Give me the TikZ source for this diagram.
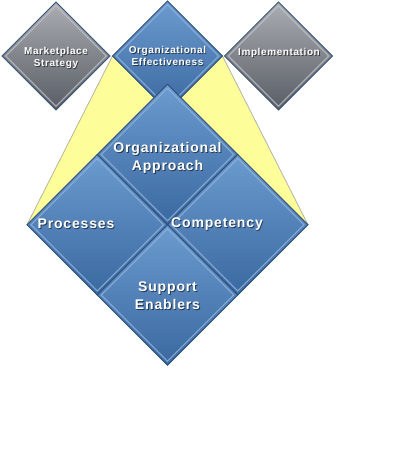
\documentclass[tikz,border=0pt]{standalone}
\usepackage{fontspec}
\setmainfont{Liberation Sans}
\newfontfamily\labfont{Liberation Sans}[LetterSpace=6]
\usetikzlibrary{shapes.geometric}
\pgfdeclarelayer{background}
\pgfsetlayers{background,main}
\definecolor{bluetop}{HTML}{6C9BCF}
\definecolor{bluebot}{HTML}{3A68A0}
\definecolor{bluedark}{HTML}{2C4E78}
\definecolor{bluebevel}{HTML}{8DB1DA}
\definecolor{graytop}{HTML}{AAADB2}
\definecolor{graybot}{HTML}{585C64}
\definecolor{graybevel}{HTML}{C4C7CB}
\definecolor{graydark}{HTML}{3A5578}
\definecolor{yel}{HTML}{FDFD9A}
\definecolor{yeledge}{HTML}{B5B5A8}
\tikzset{
  bluedia/.style={shape=diamond, inner sep=0pt, outer sep=0pt, minimum size=#1,
    draw=bluedark, line width=0.9pt, top color=bluetop, bottom color=bluebot},
  graydia/.style={shape=diamond, inner sep=0pt, outer sep=0pt, minimum size=#1,
    draw=graydark, line width=0.9pt, top color=graytop, bottom color=graybot},
  bluebev/.style={shape=diamond, inner sep=0pt, minimum size=#1,
    draw=bluebevel, line width=1.2pt, draw opacity=0.8},
  graybev/.style={shape=diamond, inner sep=0pt, minimum size=#1,
    draw=graybevel, line width=1.2pt, draw opacity=0.7},
  smalltxt/.style={align=center, font=\labfont\bfseries\fontsize{10}{12.6}\selectfont, inner sep=0pt},
  bigtxt/.style={align=center, font=\labfont\bfseries\fontsize{14}{18}\selectfont, inner sep=0pt},
  wtxt/.style={text=white},
  shtxt/.style={text=black, text opacity=0.55},
}
\newcommand{\shlabel}[4]{%
  \node[#3, shtxt] (#1s) at ([shift={(0.9pt,-0.9pt)}]#2) {#4};
  \node[#3, wtxt] (#1) at (#2) {#4};}
\begin{document}
\begin{tikzpicture}[x=1pt, y=-1pt]
\useasboundingbox (0,0) rectangle (410,450);
% top row
\node[graydia=108pt] (ms) at (56,56) {};
\node[graybev=101pt] (msb) at (ms) {};
\node[graydia=108pt] (im) at (278.5,56) {};
\node[graybev=101pt] (imb) at (im) {};
\node[bluedia=110pt] (oe) at (167.5,56) {};
\node[bluebev=103pt] (oeb) at (oe) {};
% big diamond parts
\node[bluedia=140.5pt] (oa) at (167.5,154.5) {};
\node[bluebev=133pt] (oab) at (oa) {};
\node[bluedia=140.5pt] (pr) at (97.25,224.75) {};
\node[bluebev=133pt] (prb) at (pr) {};
\node[bluedia=140.5pt] (co) at (237.75,224.75) {};
\node[bluebev=133pt] (cob) at (co) {};
\node[bluedia=140.5pt] (se) at (167.5,295) {};
\node[bluebev=133pt] (seb) at (se) {};
% yellow funnel
\begin{pgfonlayer}{background}
\fill[white] (0,0) rectangle (410,450);
\fill[yel] (oe.west) -- (oe.east) -- (co.east) -- (pr.west) -- cycle;
\draw[yeledge, line width=0.8pt] (oe.west) -- (pr.west);
\draw[yeledge, line width=0.8pt] (oe.east) -- (co.east);
\end{pgfonlayer}
% labels
\shlabel{mst}{56,58}{smalltxt}{Marketplace\\Strategy}
\shlabel{oet}{167.5,56}{smalltxt}{Organizational\\Effectiveness}
\shlabel{imt}{279,53}{smalltxt}{Implementation}
\shlabel{oat}{167.5,158}{bigtxt}{Organizational\\Approach}
\shlabel{prt}{76,224}{bigtxt}{Processes}
\shlabel{cot}{217,224}{bigtxt}{Competency}
\shlabel{set}{167.5,296}{bigtxt}{Support\\Enablers}
\end{tikzpicture}
\end{document}
